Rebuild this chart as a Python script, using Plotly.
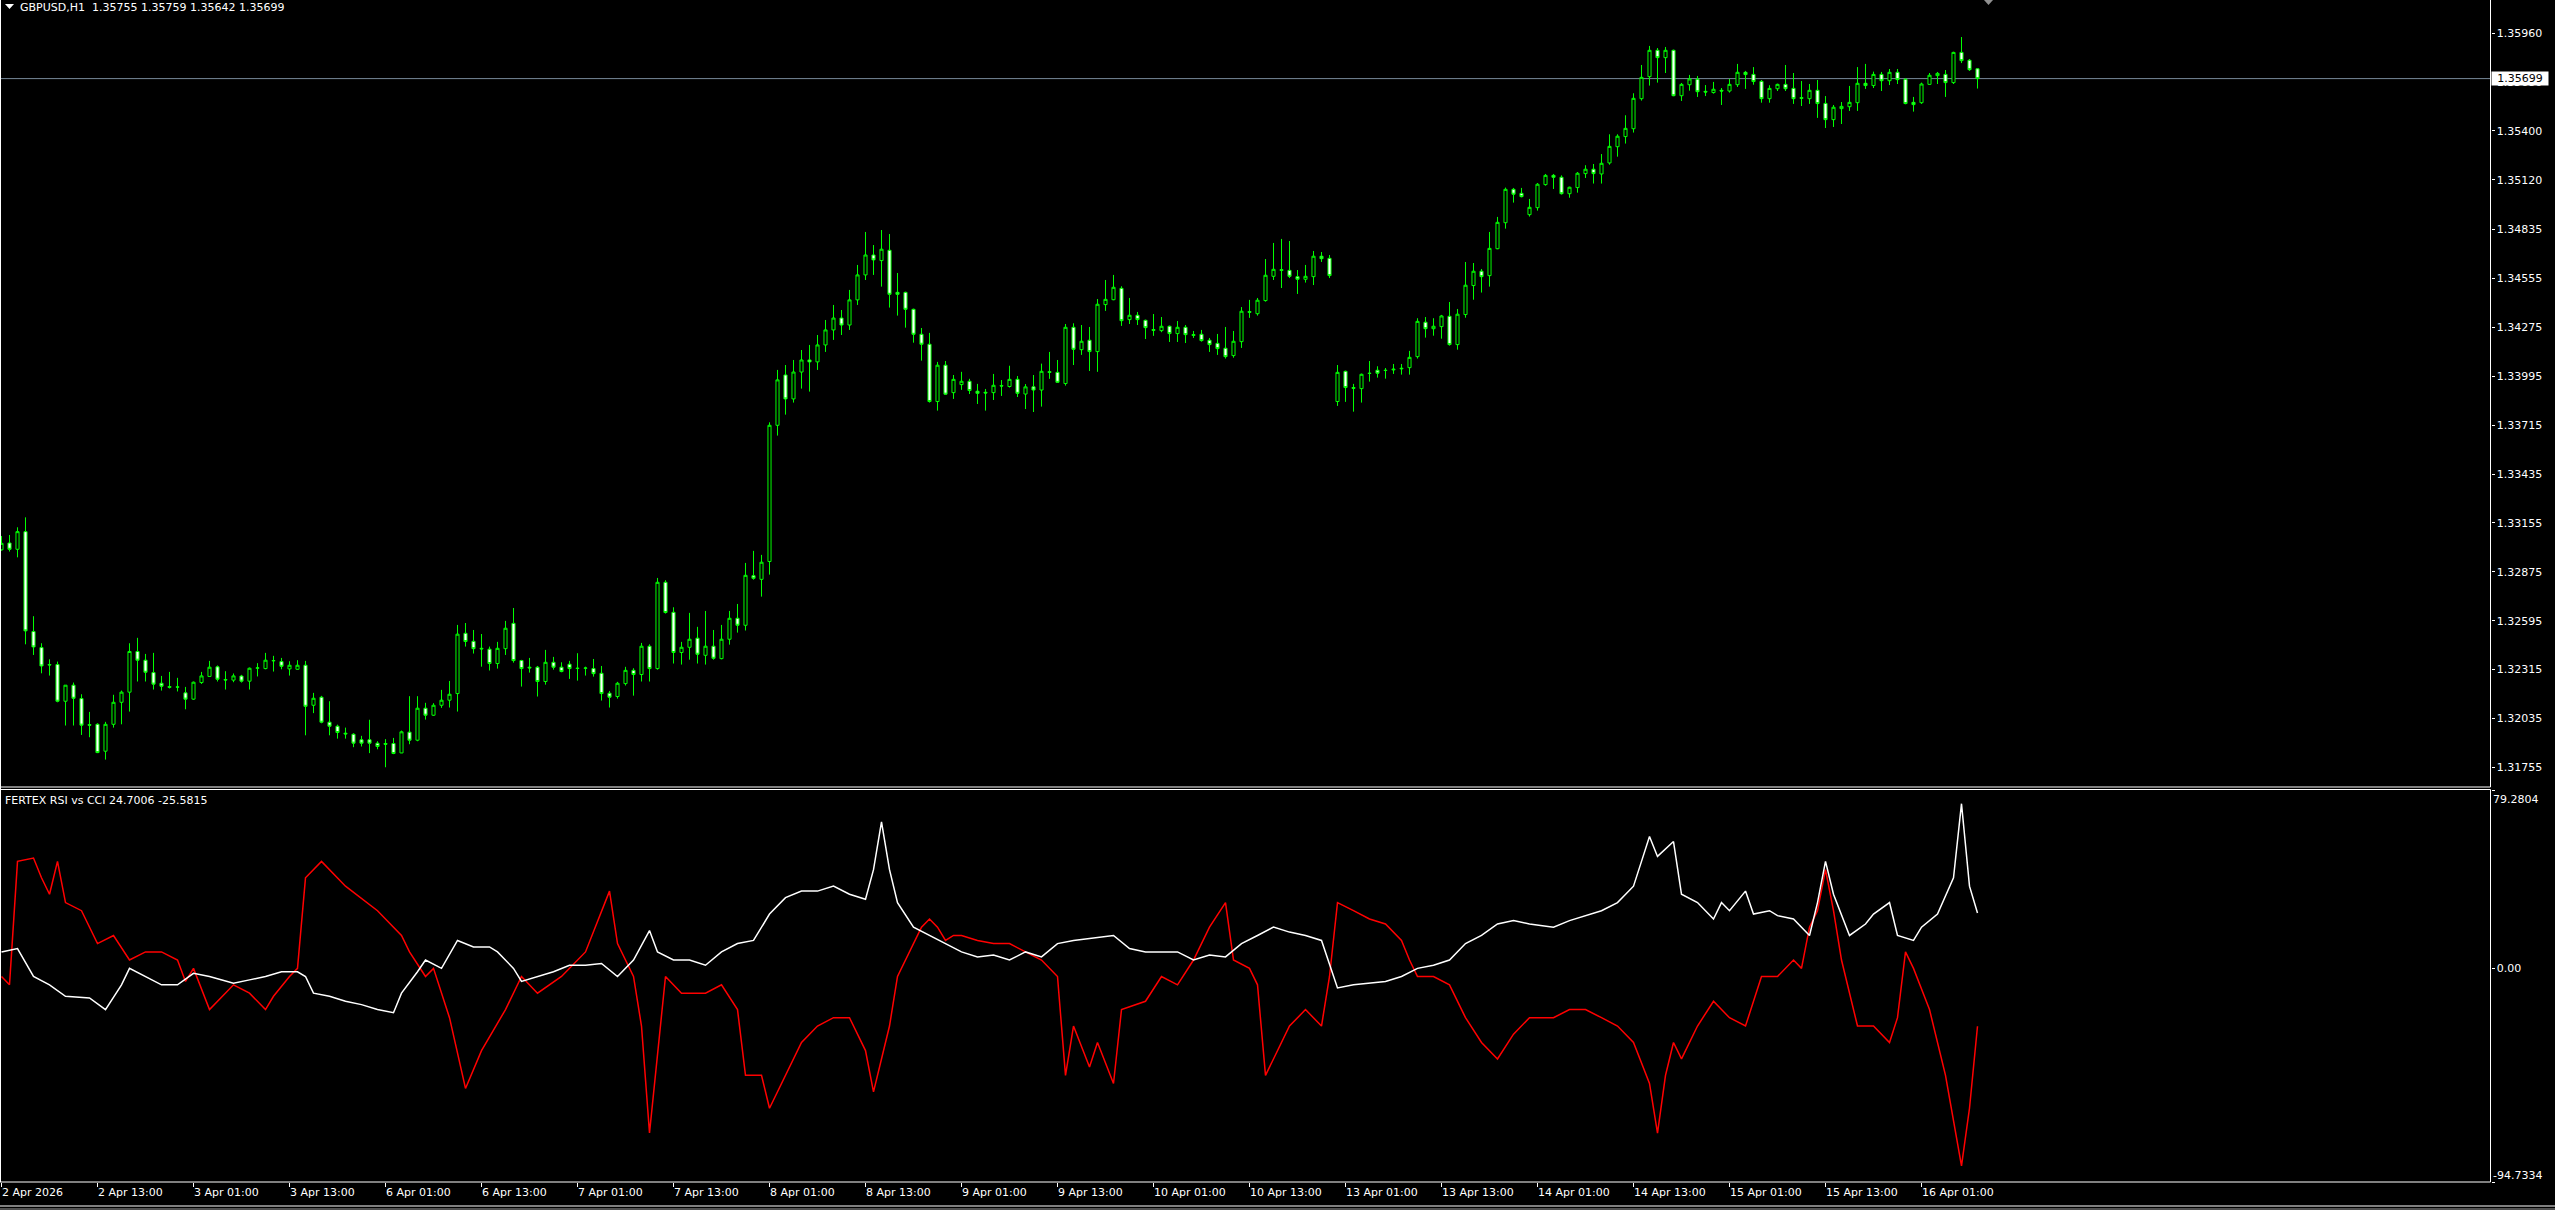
import plotly.graph_objects as go

W, H = 2555, 1210

# ---------------- data ----------------
open_ = [1.33001,1.33040,1.33004,1.33105,1.32533,1.32441,1.32344,1.32344,1.32134,1.32226,
1.32149,1.32000,1.32002,1.31848,1.32002,1.32128,1.32186,1.32419,1.32369,1.32298,
1.32237,1.32218,1.32216,1.32182,1.32146,1.32241,1.32276,1.32331,1.32258,1.32255,
1.32278,1.32249,1.32323,1.32321,1.32367,1.32361,1.32319,1.32317,1.32340,1.32111,
1.32157,1.32014,1.31991,1.31951,1.31945,1.31913,1.31913,1.31894,1.31892,1.31892,
1.31838,1.31957,1.31911,1.32094,1.32054,1.32111,1.32140,1.32178,1.32523,1.32477,
1.32437,1.32432,1.32350,1.32435,1.32580,1.32367,1.32329,1.32329,1.32247,1.32357,
1.32329,1.32346,1.32323,1.32323,1.32321,1.32294,1.32180,1.32161,1.32235,1.32311,
1.32287,1.32449,1.32321,1.32815,1.32643,1.32413,1.32443,1.32495,1.32397,1.32449,
1.32378,1.32489,1.32609,1.32569,1.32853,1.32832,1.32934,1.33714,1.34002,1.33865,
1.34019,1.34088,1.34077,1.34174,1.34260,1.34328,1.34288,1.34432,1.34575,1.34689,
1.34657,1.34716,1.34475,1.34475,1.34378,1.34235,1.34178,1.33850,1.34058,1.33901,
1.33947,1.33966,1.33909,1.33903,1.33901,1.33941,1.33936,1.33977,1.33893,1.33934,
1.33916,1.34021,1.34017,1.33953,1.34275,1.34147,1.34201,1.34136,1.34405,1.34433,
1.34498,1.34319,1.34344,1.34315,1.34262,1.34256,1.34281,1.34239,1.34275,1.34233,
1.34235,1.34201,1.34183,1.34155,1.34113,1.34193,1.34365,1.34353,1.34428,1.34567,
1.34605,1.34601,1.34565,1.34550,1.34565,1.34682,1.34670,1.33850,1.34023,1.33930,
1.33924,1.34012,1.34029,1.34029,1.34031,1.34037,1.34044,1.34107,1.34304,1.34267,
1.34279,1.34338,1.34176,1.34348,1.34514,1.34596,1.34571,1.34725,1.34874,1.35065,
1.35042,1.34920,1.34960,1.35092,1.35145,1.35134,1.35040,1.35075,1.35155,1.35180,
1.35153,1.35216,1.35309,1.35367,1.35412,1.35584,1.35710,1.35861,1.35819,1.35861,
1.35601,1.35664,1.35695,1.35626,1.35619,1.35632,1.35628,1.35664,1.35735,1.35723,
1.35683,1.35584,1.35641,1.35666,1.35643,1.35590,1.35584,1.35632,1.35557,1.35464,
1.35527,1.35538,1.35561,1.35672,1.35659,1.35723,1.35687,1.35735,1.35695,1.35563,
1.35561,1.35666,1.35716,1.35723,1.35676,1.35849,1.35804,1.35755]

high_ = [1.33080,1.33086,1.33130,1.33187,1.32621,1.32466,1.32374,1.32361,1.32226,1.32241,
1.32174,1.32073,1.32008,1.32016,1.32171,1.32195,1.32466,1.32497,1.32405,1.32411,
1.32279,1.32302,1.32268,1.32216,1.32247,1.32302,1.32365,1.32339,1.32306,1.32293,
1.32285,1.32327,1.32352,1.32411,1.32394,1.32382,1.32363,1.32369,1.32365,1.32182,
1.32165,1.32134,1.32000,1.31983,1.31951,1.31936,1.32028,1.31905,1.31917,1.31924,
1.31966,1.32163,1.32163,1.32125,1.32123,1.32199,1.32250,1.32571,1.32582,1.32542,
1.32519,1.32447,1.32474,1.32594,1.32668,1.32371,1.32382,1.32336,1.32428,1.32388,
1.32357,1.32365,1.32409,1.32332,1.32376,1.32336,1.32193,1.32245,1.32331,1.32323,
1.32468,1.32460,1.32840,1.32827,1.32672,1.32474,1.32640,1.32560,1.32651,1.32542,
1.32571,1.32651,1.32691,1.32926,1.32995,1.32972,1.33731,1.34031,1.34059,1.34088,
1.34145,1.34174,1.34231,1.34317,1.34403,1.34374,1.34489,1.34632,1.34821,1.34746,
1.34832,1.34809,1.34586,1.34479,1.34382,1.34271,1.34243,1.34077,1.34082,1.34002,
1.34020,1.33980,1.33951,1.33922,1.34008,1.33973,1.34055,1.33996,1.33950,1.34002,
1.34067,1.34134,1.34088,1.34294,1.34298,1.34288,1.34277,1.34437,1.34546,1.34575,
1.34510,1.34443,1.34363,1.34319,1.34351,1.34334,1.34285,1.34311,1.34288,1.34254,
1.34260,1.34214,1.34237,1.34277,1.34254,1.34391,1.34432,1.34443,1.34666,1.34758,
1.34781,1.34769,1.34603,1.34632,1.34712,1.34706,1.34689,1.34059,1.34027,1.33951,
1.34010,1.34082,1.34052,1.34042,1.34065,1.34065,1.34140,1.34327,1.34334,1.34327,
1.34346,1.34420,1.34380,1.34649,1.34643,1.34609,1.34821,1.34907,1.35075,1.35073,
1.35073,1.35010,1.35101,1.35153,1.35153,1.35145,1.35080,1.35164,1.35203,1.35210,
1.35267,1.35380,1.35380,1.35489,1.35615,1.35777,1.35886,1.35874,1.35880,1.35865,
1.35674,1.35720,1.35714,1.35662,1.35680,1.35645,1.35697,1.35783,1.35743,1.35765,
1.35691,1.35661,1.35670,1.35777,1.35731,1.35685,1.35668,1.35691,1.35599,1.35548,
1.35565,1.35657,1.35765,1.35783,1.35739,1.35737,1.35754,1.35754,1.35701,1.35594,
1.35676,1.35731,1.35737,1.35748,1.35853,1.35937,1.35811,1.35759]

low_ = [1.32996,1.32991,1.32958,1.32460,1.32399,1.32294,1.32281,1.32128,1.31995,1.31995,
1.31941,1.31928,1.31837,1.31800,1.31983,1.32002,1.32075,1.32247,1.32247,1.32201,
1.32195,1.32207,1.32190,1.32088,1.32142,1.32233,1.32276,1.32247,1.32201,1.32243,
1.32241,1.32201,1.32276,1.32317,1.32304,1.32317,1.32281,1.32314,1.31939,1.32066,
1.32008,1.31939,1.31920,1.31920,1.31871,1.31875,1.31837,1.31859,1.31756,1.31831,
1.31837,1.31888,1.31905,1.32029,1.32050,1.32096,1.32098,1.32075,1.32447,1.32407,
1.32332,1.32310,1.32321,1.32399,1.32355,1.32218,1.32298,1.32161,1.32229,1.32315,
1.32300,1.32262,1.32252,1.32281,1.32275,1.32138,1.32098,1.32149,1.32224,1.32166,
1.32247,1.32247,1.32315,1.32636,1.32350,1.32344,1.32372,1.32350,1.32344,1.32372,
1.32374,1.32458,1.32527,1.32539,1.32830,1.32733,1.32859,1.33655,1.33775,1.33844,
1.33924,1.33907,1.34031,1.34134,1.34203,1.34231,1.34260,1.34403,1.34546,1.34575,
1.34508,1.34388,1.34342,1.34273,1.34187,1.34084,1.33844,1.33798,1.33888,1.33865,
1.33917,1.33893,1.33836,1.33798,1.33859,1.33882,1.33930,1.33876,1.33807,1.33790,
1.33821,1.33980,1.33958,1.33941,1.34059,1.34117,1.34025,1.34020,1.34369,1.34430,
1.34283,1.34294,1.34288,1.34208,1.34226,1.34247,1.34191,1.34191,1.34185,1.34214,
1.34193,1.34134,1.34117,1.34096,1.34101,1.34157,1.34329,1.34342,1.34422,1.34546,
1.34500,1.34557,1.34466,1.34531,1.34517,1.34649,1.34557,1.33825,1.33848,1.33792,
1.33844,1.33964,1.33987,1.33981,1.34008,1.34004,1.34004,1.34096,1.34216,1.34227,
1.34210,1.34170,1.34147,1.34330,1.34433,1.34474,1.34508,1.34722,1.34840,1.34989,
1.35019,1.34909,1.34943,1.35086,1.35067,1.35035,1.35017,1.35046,1.35130,1.35098,
1.35098,1.35206,1.35252,1.35327,1.35390,1.35573,1.35659,1.35676,1.35731,1.35598,
1.35571,1.35630,1.35594,1.35599,1.35613,1.35548,1.35619,1.35651,1.35640,1.35664,
1.35561,1.35561,1.35628,1.35628,1.35554,1.35542,1.35554,1.35474,1.35416,1.35422,
1.35439,1.35514,1.35514,1.35640,1.35645,1.35628,1.35662,1.35668,1.35552,1.35510,
1.35554,1.35664,1.35668,1.35594,1.35668,1.35788,1.35743,1.35642]

close_ = [1.33038,1.33004,1.33105,1.32537,1.32445,1.32336,1.32342,1.32134,1.32226,1.32151,
1.31997,1.31997,1.31840,1.32002,1.32128,1.32186,1.32419,1.32369,1.32300,1.32232,
1.32220,1.32214,1.32215,1.32146,1.32243,1.32279,1.32329,1.32260,1.32256,1.32279,
1.32249,1.32323,1.32325,1.32369,1.32366,1.32334,1.32340,1.32340,1.32105,1.32151,
1.32014,1.31991,1.31955,1.31947,1.31894,1.31894,1.31894,1.31875,1.31888,1.31835,
1.31959,1.31911,1.32094,1.32054,1.32111,1.32140,1.32174,1.32518,1.32476,1.32435,
1.32434,1.32350,1.32437,1.32552,1.32367,1.32321,1.32325,1.32247,1.32357,1.32329,
1.32304,1.32321,1.32322,1.32324,1.32292,1.32178,1.32157,1.32237,1.32311,1.32287,
1.32449,1.32321,1.32815,1.32642,1.32413,1.32443,1.32489,1.32403,1.32449,1.32380,
1.32489,1.32609,1.32569,1.32855,1.32838,1.32930,1.33714,1.33974,1.33865,1.34019,
1.34088,1.34077,1.34174,1.34260,1.34328,1.34288,1.34432,1.34575,1.34689,1.34661,
1.34722,1.34464,1.34464,1.34378,1.34235,1.34178,1.33850,1.34058,1.33892,1.33977,
1.33966,1.33913,1.33897,1.33899,1.33943,1.33939,1.33977,1.33897,1.33934,1.33916,
1.34023,1.34017,1.33960,1.34275,1.34149,1.34195,1.34136,1.34407,1.34435,1.34504,
1.34313,1.34344,1.34319,1.34273,1.34258,1.34281,1.34239,1.34275,1.34233,1.34229,
1.34199,1.34176,1.34153,1.34107,1.34195,1.34367,1.34361,1.34430,1.34573,1.34607,
1.34601,1.34567,1.34550,1.34567,1.34682,1.34668,1.34571,1.34017,1.33930,1.33926,
1.34006,1.34011,1.34012,1.34028,1.34035,1.34040,1.34103,1.34309,1.34267,1.34281,
1.34340,1.34176,1.34350,1.34516,1.34596,1.34565,1.34727,1.34876,1.35065,1.35037,
1.35023,1.34962,1.35094,1.35145,1.35134,1.35040,1.35077,1.35157,1.35180,1.35155,
1.35214,1.35311,1.35369,1.35414,1.35586,1.35706,1.35861,1.35819,1.35861,1.35601,
1.35666,1.35697,1.35624,1.35622,1.35638,1.35628,1.35666,1.35735,1.35722,1.35682,
1.35584,1.35643,1.35666,1.35641,1.35584,1.35586,1.35632,1.35556,1.35464,1.35535,
1.35540,1.35563,1.35672,1.35659,1.35723,1.35687,1.35735,1.35693,1.35556,1.35550,
1.35668,1.35718,1.35729,1.35676,1.35849,1.35802,1.35750,1.35699]

bars = list(range(len(open_)))

# indicator lines (sampled at the bars where they were read)
white_idx = [0,2,4,6,8,11,13,15,16,18,20,22,24,26,29,31,33,35,37,38,39,41,43,45,47,49,50,52,53,55,
57,59,61,62,64,65,67,69,71,73,75,77,79,81,82,84,86,88,90,92,94,96,98,100,102,104,106,108,109,110,
111,112,114,116,118,120,122,124,126,128,130,132,134,136,139,141,143,145,147,149,151,153,155,157,159,161,163,165,166,167,
169,171,173,175,177,179,181,183,185,187,189,191,194,196,198,200,202,204,205,206,207,209,210,212,214,215,216,218,219,221,
222,224,226,227,228,229,231,233,234,236,237,239,240,242,244,245,246,247]
white_val = [7.4,8.9,-3.5,-7.2,-12.3,-13.0,-18.2,-7.2,0.1,-3.5,-7.2,-7.2,-2.1,-3.5,-6.5,-5.0,-3.5,-1.4,-1.4,-3.5,
-10.9,-12.3,-14.5,-16.0,-18.2,-19.6,-10.9,-1.4,3.8,0.1,12.5,9.6,9.6,7.4,0.1,-5.7,-3.5,-1.4,1.5,1.5,
2.3,-3.5,3.8,16.9,7.4,3.8,3.8,1.5,7.4,11.1,12.5,24.2,31.5,34.4,34.4,36.6,33.0,30.8,43.9,65.1,
43.9,29.3,18.4,14.7,11.1,7.4,5.2,6.0,3.8,7.4,5.2,11.1,12.5,13.3,14.7,8.9,7.4,7.4,7.4,3.8,
6.0,5.2,11.1,14.7,18.4,16.2,14.7,12.5,2.3,-8.6,-7.2,-6.5,-5.7,-3.5,0.1,1.5,3.8,11.1,14.7,19.8,
21.3,19.8,18.4,21.3,23.5,25.7,29.3,36.6,47.6,58.6,49.8,56.4,33.0,29.3,22.0,29.3,25.7,34.4,24.2,25.7,
23.5,22.0,14.7,29.3,47.6,33.0,14.7,19.8,24.2,29.3,14.7,12.5,18.4,24.2,40.3,73.2,36.6,24.7006]

red_idx = [0,1,2,4,5,6,7,8,10,12,14,16,18,20,22,23,24,26,29,31,33,34,36,37,38,40,43,47,50,51,
53,54,56,58,60,63,65,67,70,73,76,77,79,80,81,83,85,88,90,92,93,95,96,98,100,102,104,106,108,109,
111,112,114,115,116,117,118,119,120,122,124,126,128,130,132,133,134,136,137,139,140,143,145,147,149,151,153,154,156,157,
158,161,163,165,166,167,169,171,173,175,176,177,179,181,183,185,187,189,191,194,196,198,200,202,204,206,207,208,209,210,
212,214,216,218,220,222,224,225,226,227,228,229,230,232,234,236,237,238,239,241,243,245,246,247]
red_val = [-3.5,-7.2,47.6,49.1,40.3,33.0,47.6,29.3,25.7,11.1,14.7,3.8,7.4,7.4,3.8,-5.7,0.1,-18.2,-7.2,-10.9,
-18.2,-12.3,-3.5,0.1,40.3,47.6,36.6,25.7,14.7,7.4,-3.5,0.1,-21.8,-53.2,-36.4,-18.2,-3.5,-10.9,-3.5,7.4,
34.4,11.1,-3.5,-25.5,-73.0,-3.5,-10.9,-10.9,-7.2,-18.2,-47.4,-47.4,-62.0,-47.4,-32.8,-25.5,-21.8,-21.8,-36.4,-54.7,
-25.5,-3.5,11.1,18.4,22.0,18.4,12.5,14.7,14.7,12.5,11.1,11.1,7.4,3.8,-3.5,-47.4,-25.5,-43.7,-32.8,-51.0,
-18.2,-14.5,-3.5,-7.2,3.8,18.4,29.3,3.8,0.1,-7.2,-47.4,-25.5,-18.2,-25.5,-3.5,29.3,25.7,22.0,19.8,12.5,
3.8,-3.5,-3.5,-7.2,-21.8,-32.8,-40.1,-29.1,-21.8,-21.8,-18.2,-18.2,-21.8,-25.5,-32.8,-51.0,-73.0,-47.4,-32.8,-40.1,
-25.5,-14.5,-21.8,-25.5,-3.5,-3.5,3.8,0.1,18.4,25.7,43.9,25.7,3.8,-25.5,-25.5,-32.8,-21.8,7.4,0.1,-18.2,
-47.4,-87.6,-62.0,-25.5815]

price_tick_vals = [1.35960,1.35680,1.35400,1.35120,1.34835,1.34555,1.34275,1.33995,
                   1.33715,1.33435,1.33155,1.32875,1.32595,1.32315,1.32035,1.31755]
price_tick_text = ["1.35960","1.35680","1.35400","1.35120","1.34835","1.34555","1.34275","1.33995",
                   "1.33715","1.33435","1.33155","1.32875","1.32595","1.32315","1.32035","1.31755"]
time_tick_idx = [0,12,24,36,48,60,72,84,96,108,120,132,144,156,168,180,192,204,216,228,240]
time_tick_text = ["2 Apr 2026","2 Apr 13:00","3 Apr 01:00","3 Apr 13:00","6 Apr 01:00","6 Apr 13:00",
                  "7 Apr 01:00","7 Apr 13:00","8 Apr 01:00","8 Apr 13:00","9 Apr 01:00","9 Apr 13:00",
                  "10 Apr 01:00","10 Apr 13:00","13 Apr 01:00","13 Apr 13:00","14 Apr 01:00","14 Apr 13:00",
                  "15 Apr 01:00","15 Apr 13:00","16 Apr 01:00"]
bid_price = 1.35699
ind_max, ind_min = 79.2804, -94.7334
title_text = "GBPUSD,H1\u00a0\u00a01.35755 1.35759 1.35642 1.35699"
ind_text = "FERTEX RSI vs CCI 24.7006 -25.5815"

# ---------------- layout helpers (pixels -> paper) ----------------
def px(x):
    return x / W

def py(y):
    return 1 - y / H

FONT = "DejaVu Sans"
PLOT_R = 2490.5
BAR_W = 8.0
X0 = 1.5
xr = [(0 - X0) / BAR_W, (PLOT_R - X0) / BAR_W]
main_top_price = 1.36149
main_bot_price = 1.31643

fig = go.Figure()
fig.add_trace(go.Candlestick(
    x=bars, open=open_, high=high_, low=low_, close=close_,
    xaxis="x", yaxis="y",
    increasing=dict(line=dict(color="#00FF00", width=1), fillcolor="#000000"),
    decreasing=dict(line=dict(color="#00FF00", width=1), fillcolor="#FFFFFF"),
    whiskerwidth=0, showlegend=False, hoverinfo="skip"))
fig.add_trace(go.Scatter(x=red_idx, y=red_val, xaxis="x2", yaxis="y2", mode="lines",
                         line=dict(color="#FF0000", width=1.5), showlegend=False, hoverinfo="skip"))
fig.add_trace(go.Scatter(x=white_idx, y=white_val, xaxis="x2", yaxis="y2", mode="lines",
                         line=dict(color="#FFFFFF", width=1.5), showlegend=False, hoverinfo="skip"))

axis_common = dict(showgrid=False, zeroline=False, automargin=False, showline=False)
tickfont = dict(family=FONT, size=11, color="#FFFFFF")

shapes = []
def hline(y, x0=0, x1=PLOT_R, color="#FFFFFF", w=1):
    shapes.append(dict(type="line", xref="paper", yref="paper", x0=px(x0), x1=px(x1),
                       y0=py(y), y1=py(y), line=dict(color=color, width=w)))
def vline(x, y0, y1, color="#FFFFFF", w=1):
    shapes.append(dict(type="line", xref="paper", yref="paper", x0=px(x), x1=px(x),
                       y0=py(y0), y1=py(y1), line=dict(color=color, width=w)))

# bid line
shapes.append(dict(type="line", xref="paper", yref="y", x0=0, x1=px(PLOT_R), y0=bid_price, y1=bid_price,
                   line=dict(color="#778899", width=1), layer="below"))
# borders
hline(787.0)
hline(789.5)
hline(1182.0)
vline(0.5, 0, 1182)
vline(PLOT_R, 0, 787)
vline(PLOT_R, 789.5, 1182)
hline(1206, 0, W, "#FFFFFF")
hline(1209, 0, W, "#A0A0A0")
# title triangle and chart shift marker
shapes.append(dict(type="path", xref="paper", yref="paper",
                   path=f"M {px(5)},{py(4)} L {px(14)},{py(4)} L {px(9.5)},{py(9)} Z",
                   fillcolor="#FFFFFF", line=dict(width=0)))
shapes.append(dict(type="path", xref="paper", yref="paper",
                   path=f"M {px(1984)},{py(0)} L {px(1993)},{py(0)} L {px(1988.5)},{py(5)} Z",
                   fillcolor="#909090", line=dict(width=0)))

annotations = [
    dict(text=title_text, xref="paper", yref="paper", x=px(18), y=py(7.5), xanchor="left",
         yanchor="middle", showarrow=False, font=dict(family=FONT, size=11, color="#FFFFFF")),
    dict(text=ind_text, xref="paper", yref="paper", x=px(3), y=py(800), xanchor="left",
         yanchor="middle", showarrow=False, font=dict(family=FONT, size=11, color="#FFFFFF")),
    dict(text=f"{ind_max:.4f}", xref="paper", yref="paper", x=px(2491), y=py(799), xanchor="left",
         yanchor="middle", showarrow=False, font=dict(family=FONT, size=11, color="#FFFFFF")),
    dict(text=f"{ind_min:.4f}", xref="paper", yref="paper", x=px(2491), y=py(1175), xanchor="left",
         yanchor="middle", showarrow=False, font=dict(family=FONT, size=11, color="#FFFFFF")),
    dict(text=f"{bid_price:.5f}", xref="paper", yref="y", x=px(2491), y=bid_price, xanchor="left",
         yanchor="middle", showarrow=False, bgcolor="#FFFFFF", borderpad=0, width=56, height=13,
         align="center", font=dict(family=FONT, size=11, color="#000000")),
]

fig.update_layout(
    width=W, height=H, template="none",
    paper_bgcolor="#000000", plot_bgcolor="#000000",
    margin=dict(l=0, r=0, t=0, b=0, pad=0),
    showlegend=False, boxgap=0.45,
    xaxis=dict(domain=[0, px(PLOT_R)], range=xr, anchor="y", showticklabels=False, ticks="",
               rangeslider=dict(visible=False), **axis_common),
    yaxis=dict(domain=[py(787), 1], range=[main_bot_price, main_top_price], anchor="x", side="right",
               tickvals=price_tick_vals, ticktext=price_tick_text, ticks="outside", ticklen=3,
               tickcolor="#FFFFFF", tickwidth=1, tickfont=tickfont, **axis_common),
    xaxis2=dict(domain=[0, px(PLOT_R)], range=xr, anchor="y2", tickvals=time_tick_idx,
                ticktext=time_tick_text, ticks="outside", ticklen=4, tickcolor="#FFFFFF", tickwidth=1,
                ticklabelposition="outside right", tickfont=tickfont, **axis_common),
    yaxis2=dict(domain=[py(1182), py(790)], range=[ind_min, ind_max], anchor="x2", side="right",
                tickvals=[ind_max, 0, ind_min], ticktext=["", "0.00", ""], ticks="outside", ticklen=3,
                tickcolor="#FFFFFF", tickwidth=1, tickfont=tickfont, **axis_common),
    shapes=shapes, annotations=annotations,
)

fig.write_html("out.html", config={"displayModeBar": False, "staticPlot": True},
               post_script="document.body.style.margin='0px';document.body.style.padding='0px';"
                           "document.body.style.overflow='hidden';")
